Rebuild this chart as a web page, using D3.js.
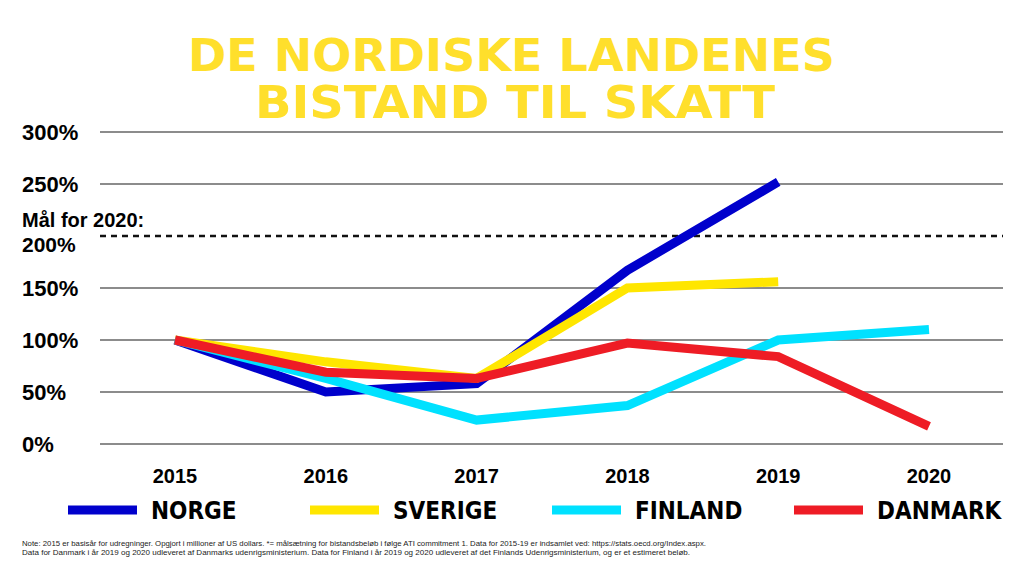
<!DOCTYPE html>
<html>
<head>
<meta charset="utf-8">
<script src="https://cdn.jsdelivr.net/npm/d3@7"></script>
<style>
body { margin: 0; background: #fff; }
text { font-family: "Liberation Sans", Arial, sans-serif; }
</style>
</head>
<body>
<script>
var years = ["2015", "2016", "2017", "2018", "2019", "2020"];
var yTicks = [0, 50, 100, 150, 250, 300];
var goal = 200;

var norge = [100, 50, 58, 167, 252];
var sverige = [100, 79, 63, 150, 156];
var finland = [100, 63, 23, 37, 100, 110];
var danmark = [100, 69, 63, 97, 84, 17];

var names = ["NORGE", "SVERIGE", "FINLAND", "DANMARK"];
var colors = ["#0000cc", "#ffe600", "#00e1ff", "#ee1c25"];
var series = [norge, sverige, finland, danmark];

var width = 1024;
var height = 576;

var svg = d3.select("body").append("svg")
    .attr("width", width)
    .attr("height", height);

// title
var title = ["DE NORDISKE LANDENES", "BISTAND TIL SKATT"];
var titleX = [[188, 835], [255, 775]];
var titleY = [71, 118];
for (let i = 0; i < title.length; i++) {
    svg.append("text")
        .attr("x", titleX[i][0])
        .attr("y", titleY[i])
        .attr("textLength", titleX[i][1] - titleX[i][0])
        .attr("lengthAdjust", "spacingAndGlyphs")
        .style("font-family", "'DejaVu Sans Condensed', 'DejaVu Sans', sans-serif")
        .style("font-weight", "900")
        .style("font-size", "44px")
        .style("fill", "#ffdf2c")
        .text(title[i]);
}

var x = d3.scalePoint().domain(years).range([175, 929]);
var y = d3.scaleLinear().domain([0, 300]).range([444, 132]);

// gridlines
svg.append("g").selectAll("line")
    .data(yTicks)
    .enter().append("line")
    .attr("x1", 100).attr("x2", 1003)
    .attr("y1", function(d) { return y(d); })
    .attr("y2", function(d) { return y(d); })
    .attr("stroke", "#8c8c8c")
    .attr("stroke-width", 2);

// goal line
svg.append("line")
    .attr("x1", 100).attr("x2", 1003)
    .attr("y1", y(goal)).attr("y2", y(goal))
    .attr("stroke", "#111")
    .attr("stroke-width", 2.5)
    .attr("stroke-dasharray", "6,5");

// y labels
svg.append("g").selectAll("text")
    .data(yTicks)
    .enter().append("text")
    .attr("x", 22)
    .attr("y", function(d) { return y(d) + 8; })
    .style("font-weight", "bold")
    .style("font-size", "22px")
    .text(function(d) { return d + "%"; });

svg.append("text")
    .attr("x", 22).attr("y", 227)
    .style("font-weight", "bold")
    .style("font-size", "20px")
    .text("Mål for 2020:");
svg.append("text")
    .attr("x", 22).attr("y", y(goal) + 16)
    .style("font-weight", "bold")
    .style("font-size", "21px")
    .text(goal + "%");

// x labels
svg.append("g").selectAll("text")
    .data(years)
    .enter().append("text")
    .attr("x", function(d) { return x(d); })
    .attr("y", 483)
    .attr("text-anchor", "middle")
    .style("font-weight", "bold")
    .style("font-size", "20px")
    .text(function(d) { return d; });

// lines
var line = d3.line()
    .x(function(d, i) { return x(years[i]); })
    .y(function(d) { return y(d); });

for (let i = 0; i < series.length; i++) {
    svg.append("path")
        .attr("d", line(series[i]))
        .attr("fill", "none")
        .attr("stroke", colors[i])
        .attr("stroke-width", 9)
        .attr("stroke-linejoin", "miter");
}

// legend
var legX = [68, 310, 552, 794];
for (let i = 0; i < names.length; i++) {
    svg.append("line")
        .attr("x1", legX[i]).attr("x2", legX[i] + 69)
        .attr("y1", 510).attr("y2", 510)
        .attr("stroke", colors[i])
        .attr("stroke-width", 9);
    svg.append("text")
        .attr("x", legX[i] + 83)
        .attr("y", 519)
        .style("font-family", "'Liberation Sans Narrow', 'DejaVu Sans Condensed', sans-serif")
        .style("font-weight", "bold")
        .style("font-size", "24px")
        .text(names[i]);
}

// note
var notes = [
    "Note: 2015 er basisår for udregninger. Opgjort i millioner af US dollars. *= målsætning for bistandsbeløb i følge ATI commitment 1. Data for 2015-19 er indsamlet ved: https://stats.oecd.org/Index.aspx.",
    "Data for Danmark i år 2019 og 2020 udleveret af Danmarks udenrigsministerium. Data for Finland i år 2019 og 2020 udleveret af det Finlands Udenrigsministerium, og er et estimeret beløb."
];
var noteEnd = [706, 690];
for (let i = 0; i < notes.length; i++) {
    svg.append("text")
        .attr("x", 22)
        .attr("y", 546 + i * 9)
        .attr("textLength", noteEnd[i] - 22)
        .attr("lengthAdjust", "spacingAndGlyphs")
        .style("font-size", "8px")
        .style("fill", "#222")
        .text(notes[i]);
}
</script>
</body>
</html>
